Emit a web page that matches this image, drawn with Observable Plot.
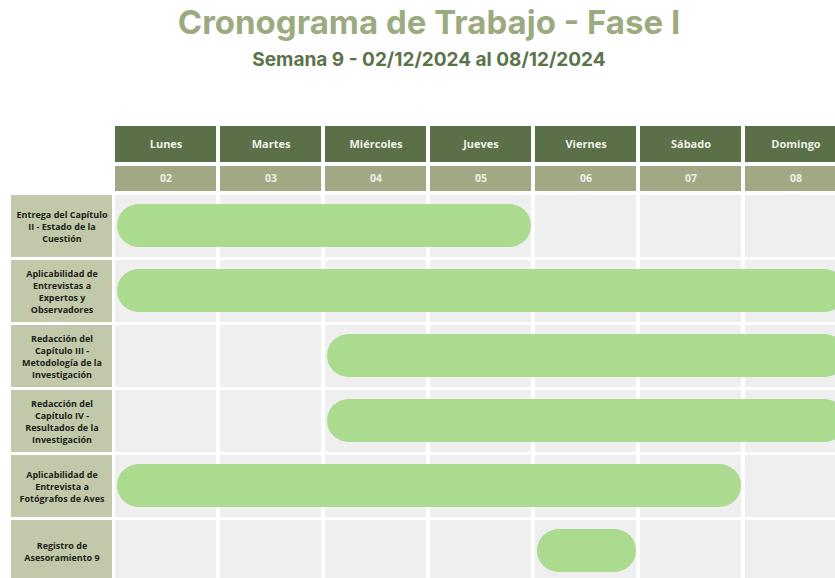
<!DOCTYPE html>
<html>
<head>
<meta charset="utf-8">
<script src="https://cdn.jsdelivr.net/npm/d3@7"></script>
<script src="https://cdn.jsdelivr.net/npm/@observablehq/plot@0.6"></script>
<style>
  html, body { margin: 0; padding: 0; background: #ffffff; overflow: hidden; }
  #wrap { position: relative; width: 835px; height: 578px; overflow: hidden; }
  #title { position: absolute; left: 0; width: 858px; top: 2px; text-align: center;
           font-family: Inter, "Open Sans", sans-serif; font-weight: 700; font-size: 33px;
           color: #9cab7f; }
  #subtitle { position: absolute; left: 0; width: 858px; top: 48px; text-align: center;
           font-family: Inter, "Open Sans", sans-serif; font-weight: 700; font-size: 19px;
           color: #5b734a; }
  #chart { position: absolute; left: 0; top: 0; }
</style>
</head>
<body>
<div id="wrap">
  <div id="chart"></div>
  <div id="title">Cronograma de Trabajo - Fase I</div>
  <div id="subtitle">Semana 9 - 02/12/2024 al 08/12/2024</div>
</div>
<script>
// ---- data ----
const days = ["Lunes", "Martes", "Miércoles", "Jueves", "Viernes", "Sábado", "Domingo"];
const dates = ["02", "03", "04", "05", "06", "07", "08"];
const tasks = [
  "Entrega del Capítulo\nII - Estado de la\nCuestión",
  "Aplicabilidad de\nEntrevistas a\nExpertos y\nObservadores",
  "Redacción del\nCapítulo III -\nMetodología de la\nInvestigación",
  "Redacción del\nCapítulo IV -\nResultados de la\nInvestigación",
  "Aplicabilidad de\nEntrevista a\nFotógrafos de Aves",
  "Registro de\nAsesoramiento 9"
];
const startDay = [0, 0, 2, 2, 0, 4];   // index into days
const endDay   = [3, 6, 6, 6, 5, 4];   // inclusive

// ---- layout (grid units) ----
const HEADER_DAY = [-1.0615, -0.5077];
const HEADER_DATE = [-0.446, -0.0615];
const LABEL_COL = [-1, 0];

const C = {
  dark: "#5b7049", date: "#a0a983", label: "#c1c9aa", cell: "#efefef",
  bar: "#aadb8f", headText: "#eef0e6", labelText: "#1e2418"
};

const dayIdx = days.map((d, i) => i);
const cells = tasks.flatMap((t, r) => dayIdx.map(i => ({r, i})));
const bars = tasks.map((t, r) => ({r, s: startDay[r], e: endDay[r]}));
const rows = tasks.map((t, r) => ({r, t}));

const plot = Plot.plot({
  width: 835,
  height: 578,
  margin: 0,
  style: {background: "white", fontFamily: "'Open Sans', sans-serif"},
  x: {type: "linear", domain: [0, 7], range: [115, 850], axis: null},
  y: {type: "linear", domain: [0, 6], range: [195, 585], axis: null},
  marks: [
    // header: day names
    Plot.rect(dayIdx, {x1: i => i, x2: i => i + 1, y1: () => HEADER_DAY[0], y2: () => HEADER_DAY[1],
      fill: C.dark, insetRight: 4}),
    Plot.text(dayIdx, {x: i => i + 0.5, y: () => (HEADER_DAY[0] + HEADER_DAY[1]) / 2, text: i => days[i],
      dx: -2, fill: C.headText, fontSize: 11, fontWeight: 700}),
    // header: dates
    Plot.rect(dayIdx, {x1: i => i, x2: i => i + 1, y1: () => HEADER_DATE[0], y2: () => HEADER_DATE[1],
      fill: C.date, insetRight: 4}),
    Plot.text(dayIdx, {x: i => i + 0.5, y: () => (HEADER_DATE[0] + HEADER_DATE[1]) / 2, text: i => dates[i],
      dx: -2, fill: C.headText, fontSize: 10.5, fontWeight: 700}),
    // body cells
    Plot.rect(cells, {x1: d => d.i, x2: d => d.i + 1, y1: d => d.r, y2: d => d.r + 1,
      fill: C.cell, insetRight: 4, insetBottom: 3}),
    // row labels
    Plot.rect(rows, {x1: () => LABEL_COL[0], x2: () => LABEL_COL[1], y1: d => d.r, y2: d => d.r + 1,
      fill: C.label, insetLeft: 1, insetRight: 3, insetBottom: 3}),
    Plot.text(rows, {x: () => (LABEL_COL[0] + LABEL_COL[1]) / 2, y: d => d.r + 0.5, text: d => d.t,
      dx: -1, dy: -1.5, fill: C.labelText, fontSize: 9, fontWeight: 700, lineHeight: 1.33}),
    // bars
    Plot.rect(bars, {x1: d => d.s, x2: d => d.e + 1, y1: d => d.r, y2: d => d.r + 1,
      fill: C.bar, insetLeft: 2, insetRight: 4, insetTop: 9, insetBottom: 13, rx: 21.5})
  ]
});
document.getElementById("chart").appendChild(plot);
</script>
</body>
</html>
